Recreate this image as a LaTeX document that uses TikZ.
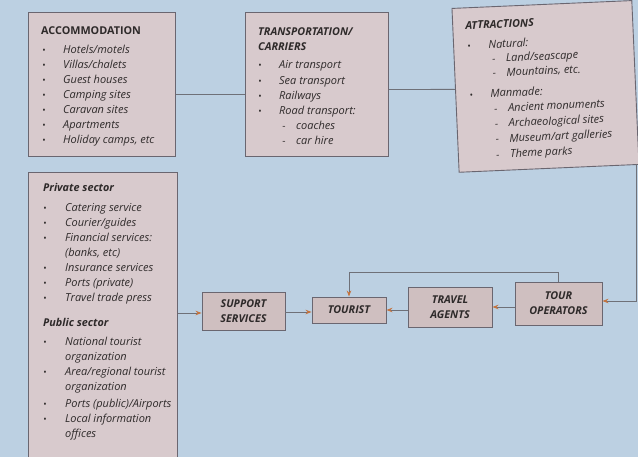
\documentclass[tikz,border=0pt]{standalone}
\usepackage{fontspec}
\setmainfont{Open Sans}
\usetikzlibrary{arrows.meta,calc}
\definecolor{bgc}{HTML}{BCD0E2}
\definecolor{boxc}{HTML}{D8CACD}
\definecolor{flowc}{HTML}{CFBFC0}
\definecolor{edgec}{HTML}{6A6670}
\definecolor{txtc}{HTML}{2E2A2A}
\definecolor{arrc}{HTML}{C4733F}
\definecolor{linec}{HTML}{6E7078}
\tikzset{
  panel/.style={draw=edgec, line width=0.9pt, fill=boxc, anchor=north west, inner sep=0pt},
  flow/.style={draw=edgec, line width=0.9pt, fill=flowc, inner sep=0pt, align=center,
    font=\fontsize{10.8}{15}\selectfont\bfseries\itshape, text=txtc},
  item/.style={anchor=base west, inner sep=0pt, text=txtc, font=\fontsize{11}{13}\selectfont\itshape},
  head/.style={anchor=base west, inner sep=0pt, text=txtc, font=\fontsize{10.8}{13}\selectfont\bfseries},
  bhead/.style={head, font=\fontsize{10.8}{13}\selectfont\bfseries\itshape},
  bul/.style={anchor=base, inner sep=0pt, text=txtc, font=\fontsize{9}{10}\selectfont},
  dsh/.style={anchor=base, inner sep=0pt, text=txtc, font=\fontsize{10}{13}\selectfont},
  conn/.style={draw=linec, line width=0.8pt},
  arr/.style={draw=linec, line width=0.8pt, -{Stealth[length=6pt,width=4.5pt,color=arrc]}}
}
\begin{document}
\begin{tikzpicture}[x=1pt,y=-1pt]
\useasboundingbox (0,0) rectangle (638,457);
\clip (0,0) rectangle (638,457);
\fill[bgc] (0,0) rectangle (638,457);

% panels
\node[panel, minimum width=147pt, minimum height=144pt] (acc) at (28,12) {};
\node[panel, minimum width=143pt, minimum height=144pt] (tr) at (245,12) {};
\begin{scope}[rotate around={2.5:(545,86)}]
\node[panel, minimum width=180pt, minimum height=164pt, rotate=2.5] (attr) at (455,4) {};
\end{scope}
\node[panel, minimum width=149pt, minimum height=300pt] (sec) at (28,172) {};

% accommodation
\node[head] (accH) at (41,35) {ACCOMMODATION};
\foreach \t [count=\i] in {Hotels/motels, Villas/chalets, Guest houses, Camping sites, Caravan sites, Apartments, {Holiday camps, etc}}{
  \node[bul] (accB\i) at (44,54+15*\i-15) {\textbullet};
  \node[item] (accI\i) at (63,54+15*\i-15) {\t};
}

% transportation
\node[bhead] (trH1) at (258,36) {TRANSPORTATION/};
\node[bhead] (trH2) at (258,51) {CARRIERS};
\foreach \t [count=\i] in {Air transport, Sea transport, Railways, Road transport:}{
  \node[bul] (trB\i) at (260,69+15.3*\i-15.3) {\textbullet};
  \node[item] (trI\i) at (279,69+15.3*\i-15.3) {\t};
}
\node[dsh] (trD1) at (284,130) {-};
\node[item] (trS1) at (296,130) {coaches};
\node[dsh] (trD2) at (284,145) {-};
\node[item] (trS2) at (296,145) {car hire};

% attractions
\begin{scope}[rotate around={2.5:(545,86)}]
\node[bhead, rotate=2.5] (atH) at (468,26) {ATTRACTIONS};
\node[bul, rotate=2.5] (atB1) at (471,46) {\textbullet};
\node[item, rotate=2.5] (atI1) at (490,46) {Natural:};
\node[dsh, rotate=2.5] (atD1) at (495,60) {-};
\node[item, rotate=2.5] (atS1) at (507,60) {Land/seascape};
\node[dsh, rotate=2.5] (atD2) at (495,74.5) {-};
\node[item, rotate=2.5] (atS2) at (507,74.5) {Mountains, etc.};
\node[bul, rotate=2.5] (atB2) at (471,95) {\textbullet};
\node[item, rotate=2.5] (atI2) at (490,95) {Manmade:};
\foreach \t [count=\i] in {Ancient monuments, Archaeological sites, Museum/art galleries, Theme parks}{
  \node[dsh, rotate=2.5] (atE\i) at (495,110+15.3*\i-15.3) {-};
  \node[item, rotate=2.5] (atT\i) at (507,110+15.3*\i-15.3) {\t};
}
\end{scope}

% sectors
\node[bhead] (prH) at (43,192) {Private sector};
\foreach \t/\y/\b [count=\i] in {{Catering service}/212/1, {Courier/guides}/227/1, {Financial services:}/242/1, {(banks, etc)}/257/0, {Insurance services}/272/1, {Ports (private)}/287/1, {Travel trade press}/302/1}{
  \ifnum\b=1 \node[bul] (prB\i) at (45,\y) {\textbullet};\fi
  \node[item] (prI\i) at (65,\y) {\t};
}
\node[bhead] (puH) at (43,327) {Public sector};
\foreach \t/\y/\b [count=\i] in {{National tourist}/346/1, {organization}/361/0, {Area/regional tourist}/376/1, {organization}/391/0, {Ports (public)/Airports}/407/1, {Local information}/422/1, {offices}/437/0}{
  \ifnum\b=1 \node[bul] (puB\i) at (45,\y) {\textbullet};\fi
  \node[item] (puI\i) at (65,\y) {\t};
}

% flow boxes
\node[flow, minimum width=83pt, minimum height=38pt] (sup) at (243.5,311) {SUPPORT\\SERVICES};
\node[flow, minimum width=74pt, minimum height=26pt] (tou) at (349,310) {TOURIST};
\node[flow, minimum width=84pt, minimum height=40pt] (ta) at (450,307) {TRAVEL\\AGENTS};
\node[flow, minimum width=87pt, minimum height=43pt] (to) at (558.5,303.5) {TOUR\\OPERATORS};

% connectors
\draw[conn] ([yshift=-10pt]acc.east) -- ([yshift=-10pt]tr.west);
\draw[conn] ([yshift=-5pt]tr.east) -- ($(attr.west)+(0,-1)$);
\draw[arr] (sec.east |- 0,313) -- (sup.west |- 0,313);
\draw[arr] (sup.east |- 0,312) -- (tou.west |- 0,312);
\draw[arr] (ta.west |- 0,310) -- (tou.east |- 0,310);
\draw[arr] (to.west |- 0,307) -- (ta.east |- 0,307);
\draw[arr] (to.north |- 0,282) -- (to.north |- 0,272) -- (tou.north |- 0,272) -- (tou.north);
\coordinate (rc) at (636,164);
\draw[arr] (rc) -- (rc |- 0,301) -- (to.east |- 0,301);
\end{tikzpicture}
\end{document}
